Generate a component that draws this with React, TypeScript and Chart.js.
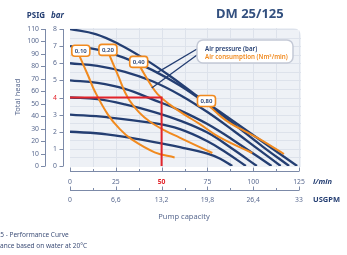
import React, { useEffect, useRef } from 'react';
import { Chart, registerables } from 'chart.js';

Chart.register(...registerables);

// ---------- data ----------
const FLOW_TICKS = [0, 25, 50, 75, 100, 125];
const FLOW_LABELS = ['0', '25', '50', '75', '100', '125'];
const USGPM_LABELS = ['0', '6,6', '13,2', '19,8', '26,4', '33'];
const BAR_TICKS = [0, 1, 2, 3, 4, 5, 6, 7, 8];
const PSIG_TICKS = [0, 10, 20, 30, 40, 50, 60, 70, 80, 90, 100, 110];
const PSIG_TOP = 110; // psig value printed level with 8 bar
const BAR_TOP = 8;
const FLOW_MAX = 125;

// air pressure curves: [flow l/min, head bar]
const HEAD_8 = [[0, 8], [14, 7.7], [27, 7.1], [40, 6.3], [54, 5.3], [68, 4.2], [82, 3.15], [96, 2.1], [110, 1.05], [124, 0]];
const HEAD_7 = [[0, 7], [15, 6.8], [30, 6.3], [45, 5.6], [60, 4.7], [75, 3.6], [90, 2.4], [105, 1.15], [119.6, 0]];
const HEAD_6 = [[0, 6], [15, 5.85], [30, 5.5], [45, 4.95], [60, 4.15], [75, 3.15], [90, 2.0], [102.5, 1.0], [115, 0]];
const HEAD_5 = [[0, 5], [15, 4.85], [30, 4.5], [46, 3.85], [60, 3.25], [75, 2.45], [90, 1.45], [110, 0]];
const HEAD_4 = [[0, 4], [15, 3.9], [30, 3.6], [46, 3.15], [60, 2.65], [75, 1.95], [88, 1.05], [102, 0]];
const HEAD_3 = [[0, 3], [20, 2.85], [46, 2.5], [60, 2.15], [75, 1.45], [85, 0.8], [96, 0]];
const HEAD_2 = [[0, 2], [20, 1.85], [46, 1.4], [60, 1.1], [75, 0.72], [82, 0.42], [88.6, 0]];

// air consumption curves: [flow l/min, head bar]
const AIR_010 = [[5.4, 6.37], [9.8, 5.3], [13.6, 4.35], [20.7, 3.0], [27.2, 2.15], [33.7, 1.55], [46.2, 0.8], [57.1, 0.5]];
const AIR_020 = [[21.7, 6.43], [26.1, 5.32], [31.5, 4.0], [38, 3.1], [43.5, 2.6], [51.6, 2.08], [59.8, 1.66], [77.7, 0.76]];
const AIR_040 = [[38.6, 5.73], [43.5, 4.85], [47.8, 4.2], [54.3, 3.6], [62.5, 3.0], [70.7, 2.46], [81.5, 1.68], [99.5, 0.76]];
const AIR_080 = [[76.6, 3.45], [82.6, 2.87], [88, 2.46], [95.1, 2.05], [103.3, 1.58], [116.8, 0.7]];

const AIR_LABELS = ['0,10', '0,20', '0,40', '0,80'];
const AIR_LABEL_AT = [[5.9, 6.73], [20.7, 6.78], [37.5, 6.08], [74.5, 3.8]];

// duty point
const DUTY_FLOW = 50;
const DUTY_HEAD = 4;

// legend pointer targets [flow, bar]
const POINTER_PRESSURE = [47.3, 5.44];
const POINTER_AIR = [44.6, 4.56];

// ---------- styles ----------
const NAVY = '#243e72';
const ORANGE = '#f18a1f';
const RED = '#e3242b';
const AXIS_TXT = '#5a6a90';
const FONT = '"Noto Sans", "Open Sans", sans-serif';

const toXY = (arr: number[][]) => arr.map(([x, y]) => ({ x, y }));

function roundRect(ctx: CanvasRenderingContext2D, x: number, y: number, w: number, h: number, r: number) {
  ctx.beginPath();
  ctx.moveTo(x + r, y);
  ctx.lineTo(x + w - r, y);
  ctx.arcTo(x + w, y, x + w, y + r, r);
  ctx.lineTo(x + w, y + h - r);
  ctx.arcTo(x + w, y + h, x + w - r, y + h, r);
  ctx.lineTo(x + r, y + h);
  ctx.arcTo(x, y + h, x, y + h - r, r);
  ctx.lineTo(x, y + r);
  ctx.arcTo(x, y, x + r, y, r);
  ctx.closePath();
}

const decor = {
  id: 'decor',
  beforeDatasetsDraw(chart: any) {
    const { ctx } = chart;
    const xs = chart.scales.x;
    const ys = chart.scales.y;
    const l = xs.getPixelForValue(0);
    const r = xs.getPixelForValue(FLOW_MAX) + 2;
    const t = ys.getPixelForValue(BAR_TOP) - 1;
    const b = ys.getPixelForValue(0) + 1;
    ctx.save();
    ctx.beginPath();
    const rad = 8;
    ctx.moveTo(l, t);
    ctx.lineTo(r - rad, t);
    ctx.arcTo(r, t, r, t + rad, rad);
    ctx.lineTo(r, b);
    ctx.lineTo(l, b);
    ctx.closePath();
    ctx.fillStyle = '#eef1f6';
    ctx.fill();
    ctx.clip();
    ctx.strokeStyle = '#dde2eb';
    ctx.lineWidth = 1;
    for (let q = 12.5; q < FLOW_MAX + 1; q += 12.5) {
      const px = Math.round(xs.getPixelForValue(q)) + 0.5;
      ctx.beginPath();
      ctx.moveTo(px, t);
      ctx.lineTo(px, b);
      ctx.stroke();
    }
    for (let v = 0.5; v <= BAR_TOP; v += 0.5) {
      const py = Math.round(ys.getPixelForValue(v)) + 0.5;
      ctx.beginPath();
      ctx.moveTo(l, py);
      ctx.lineTo(r, py);
      ctx.stroke();
    }
    ctx.restore();
  },
  afterDatasetsDraw(chart: any) {
    const { ctx } = chart;
    const xs = chart.scales.x;
    const ys = chart.scales.y;
    ctx.save();

    // air consumption labels
    AIR_LABELS.forEach((txt, i) => {
      const cx = xs.getPixelForValue(AIR_LABEL_AT[i][0]);
      const cy = ys.getPixelForValue(AIR_LABEL_AT[i][1]);
      const w = 18, h = 11;
      roundRect(ctx, cx - w / 2, cy - h / 2, w, h, 3);
      ctx.fillStyle = '#ffffff';
      ctx.fill();
      ctx.strokeStyle = ORANGE;
      ctx.lineWidth = 1.6;
      ctx.stroke();
      ctx.fillStyle = NAVY;
      ctx.font = `600 6px ${FONT}`;
      ctx.textAlign = 'center';
      ctx.textBaseline = 'middle';
      ctx.fillText(txt, cx, cy + 0.5);
    });

    // legend box with pointers
    const lx = 197, ly = 40, lw = 96, lh = 23;
    ctx.strokeStyle = NAVY;
    ctx.lineWidth = 1.3;
    ctx.beginPath();
    ctx.moveTo(lx, ly + 9);
    ctx.lineTo(xs.getPixelForValue(POINTER_PRESSURE[0]), ys.getPixelForValue(POINTER_PRESSURE[1]));
    ctx.moveTo(lx, ly + 15);
    ctx.lineTo(xs.getPixelForValue(POINTER_AIR[0]), ys.getPixelForValue(POINTER_AIR[1]));
    ctx.stroke();
    roundRect(ctx, lx, ly, lw, lh, 6);
    ctx.fillStyle = '#ffffff';
    ctx.fill();
    ctx.strokeStyle = '#c4c9d6';
    ctx.lineWidth = 1.5;
    ctx.stroke();
    ctx.textAlign = 'left';
    ctx.textBaseline = 'middle';
    ctx.font = `600 6.2px ${FONT}`;
    ctx.fillStyle = NAVY;
    ctx.fillText('Air pressure (bar)', 205, 49);
    ctx.fillStyle = ORANGE;
    ctx.fillText('Air consumption (Nm³/min)', 205, 57.5);

    // left axes
    const yTop = ys.getPixelForValue(BAR_TOP);
    const y0 = ys.getPixelForValue(0);
    ctx.strokeStyle = '#7c8aa8';
    ctx.lineWidth = 1;
    ctx.beginPath();
    ctx.moveTo(45.5, yTop);
    ctx.lineTo(45.5, y0);
    ctx.moveTo(63.5, yTop);
    ctx.lineTo(63.5, y0);
    ctx.stroke();
    ctx.font = `6.8px ${FONT}`;
    ctx.textBaseline = 'middle';
    PSIG_TICKS.forEach((p) => {
      const py = Math.round(ys.getPixelForValue((p * BAR_TOP) / PSIG_TOP)) + 0.5;
      ctx.beginPath();
      ctx.moveTo(41, py);
      ctx.lineTo(45.5, py);
      ctx.stroke();
      ctx.fillStyle = AXIS_TXT;
      ctx.textAlign = 'right';
      ctx.fillText(String(p), 39, py);
    });
    BAR_TICKS.forEach((v) => {
      const py = Math.round(ys.getPixelForValue(v)) + 0.5;
      ctx.beginPath();
      ctx.moveTo(59.5, py);
      ctx.lineTo(63.5, py);
      ctx.stroke();
      ctx.fillStyle = v === DUTY_HEAD ? RED : AXIS_TXT;
      ctx.textAlign = 'center';
      ctx.fillText(String(v), 55, py);
    });
    ctx.fillStyle = NAVY;
    ctx.font = `bold 8px ${FONT}`;
    ctx.textAlign = 'center';
    ctx.fillText('PSIG', 36, 16);
    ctx.font = `italic bold 8px ${FONT}`;
    ctx.fillText('bar', 57.5, 16);

    ctx.save();
    ctx.translate(18, 97);
    ctx.rotate(-Math.PI / 2);
    ctx.fillStyle = AXIS_TXT;
    ctx.font = `7.5px ${FONT}`;
    ctx.textAlign = 'center';
    ctx.fillText('Total head', 0, 0);
    ctx.restore();

    // bottom axes
    const xl = xs.getPixelForValue(0);
    const xr = xs.getPixelForValue(FLOW_MAX);
    const drawAxis = (ay: number, labels: string[], ly2: number) => {
      ctx.strokeStyle = '#7c8aa8';
      ctx.lineWidth = 1;
      ctx.beginPath();
      ctx.moveTo(xl, ay + 0.5);
      ctx.lineTo(xr, ay + 0.5);
      for (let q = 0; q <= FLOW_MAX + 0.1; q += 12.5) {
        const px = Math.round(xs.getPixelForValue(q)) + 0.5;
        const major = Math.abs(q % 25) < 0.01;
        ctx.moveTo(px, ay + 0.5);
        ctx.lineTo(px, ay + 0.5 - (major ? 4 : 2.5));
      }
      ctx.stroke();
      ctx.textAlign = 'center';
      ctx.textBaseline = 'middle';
      FLOW_TICKS.forEach((q, i) => {
        const duty = labels === FLOW_LABELS && q === DUTY_FLOW;
        ctx.fillStyle = duty ? RED : AXIS_TXT;
        ctx.font = duty ? `bold 6.8px ${FONT}` : `6.8px ${FONT}`;
        ctx.fillText(labels[i], xs.getPixelForValue(q), ly2);
      });
    };
    drawAxis(171, FLOW_LABELS, 182);
    drawAxis(190, USGPM_LABELS, 200);
    ctx.fillStyle = NAVY;
    ctx.textAlign = 'left';
    ctx.font = `italic bold 7.5px ${FONT}`;
    ctx.fillText('l/min', 313, 182);
    ctx.font = `bold 7.5px ${FONT}`;
    ctx.fillText('USGPM', 313, 200);

    ctx.fillStyle = AXIS_TXT;
    ctx.font = `7.5px ${FONT}`;
    ctx.textAlign = 'center';
    ctx.fillText('Pump capacity', 184, 217);

    // title
    ctx.fillStyle = '#33507f';
    ctx.font = `bold 13px ${FONT}`;
    ctx.textAlign = 'left';
    ctx.fillText('DM 25/125', 216, 14);

    // footnotes (clipped at the left edge like the original)
    ctx.fillStyle = '#3e4f78';
    ctx.font = `6.5px ${FONT}`;
    ctx.textAlign = 'left';
    const pre1 = 'DM 25/125 - ';
    ctx.fillText('DM 25/125 - Performance Curve', 9.5 - ctx.measureText(pre1).width, 235);
    const pre2 = 'Perform';
    ctx.fillText('Performance based on water at 20°C', 0 - ctx.measureText(pre2).width, 246.5);

    ctx.restore();
  },
};

export default function App() {
  const ref = useRef<HTMLCanvasElement>(null);
  useEffect(() => {
    const canvas = ref.current!;
    const blue = (d: number[][]) => ({
      data: toXY(d),
      borderColor: NAVY,
      borderWidth: 2.3,
      pointRadius: 0,
      fill: false,
      tension: 0.4,
    });
    const orange = (d: number[][]) => ({
      data: toXY(d),
      borderColor: ORANGE,
      borderWidth: 2,
      pointRadius: 0,
      fill: false,
      tension: 0.4,
    });
    const chart = new Chart(canvas, {
      type: 'line',
      data: {
        datasets: [
          {
            data: toXY([[0, DUTY_HEAD], [DUTY_FLOW, DUTY_HEAD], [DUTY_FLOW, 0]]),
            borderColor: RED,
            borderWidth: 2,
            pointRadius: 0,
            fill: false,
            tension: 0,
          },
          orange(AIR_010),
          orange(AIR_020),
          orange(AIR_040),
          orange(AIR_080),
          blue(HEAD_8),
          blue(HEAD_7),
          blue(HEAD_6),
          blue(HEAD_5),
          blue(HEAD_4),
          blue(HEAD_3),
          blue(HEAD_2),
        ] as any,
      },
      options: {
        responsive: false,
        animation: false,
        devicePixelRatio: 1,
        layout: { padding: { left: 70, right: 48, top: 29, bottom: 89 } },
        scales: {
          x: { type: 'linear', min: 0, max: FLOW_MAX, display: false },
          y: { type: 'linear', min: 0, max: BAR_TOP, display: false },
        },
        plugins: { legend: { display: false }, tooltip: { enabled: false } },
      },
      plugins: [decor],
    });
    return () => chart.destroy();
  }, []);
  return (
    <div style={{ position: 'fixed', left: 0, top: 0, width: 347, height: 255, background: '#fff' }}>
      <canvas ref={ref} width={347} height={255} style={{ display: 'block' }} />
    </div>
  );
}
